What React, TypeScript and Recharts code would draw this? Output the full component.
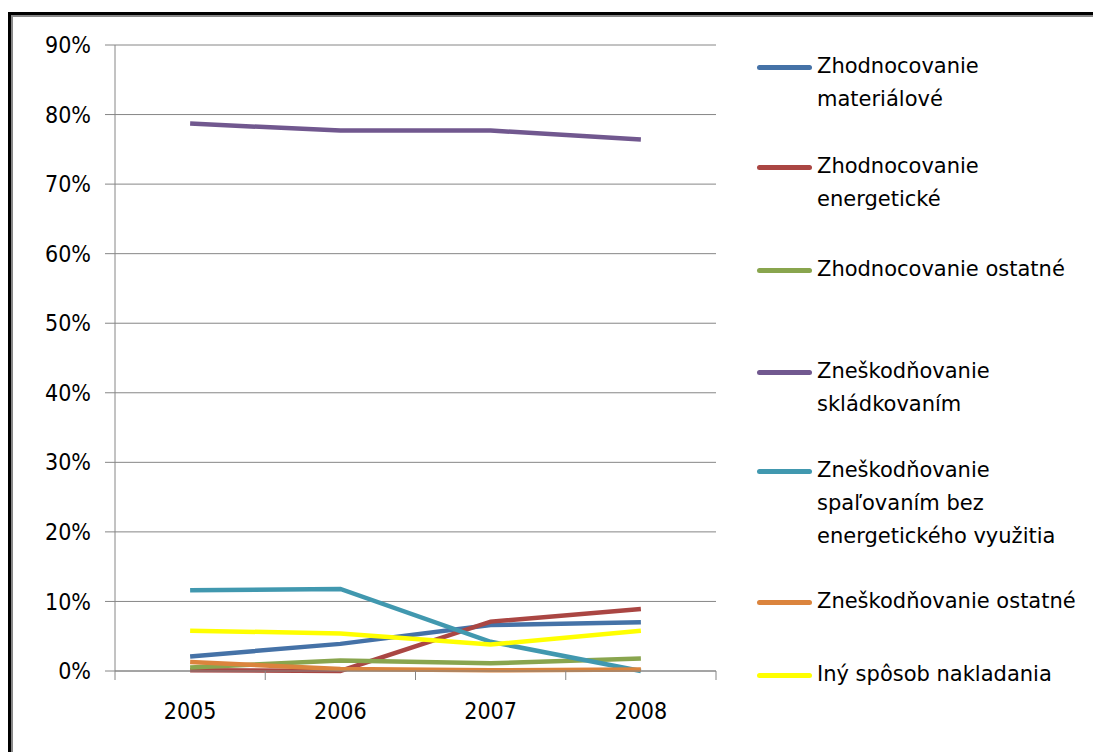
import { LineChart, Line, XAxis, YAxis, CartesianGrid } from "recharts";

const years = ["2005", "2006", "2007", "2008"];

const materialove = [0.021, 0.039, 0.066, 0.07];
const energeticke = [0.001, 0.0, 0.071, 0.089];
const zhodOstatne = [0.005, 0.015, 0.011, 0.018];
const skladkovanim = [0.787, 0.777, 0.777, 0.764];
const spalovanim = [0.116, 0.118, 0.042, 0.0];
const znesOstatne = [0.013, 0.003, 0.001, 0.002];
const iny = [0.058, 0.054, 0.038, 0.058];

const yTicks = [0, 0.1, 0.2, 0.3, 0.4, 0.5, 0.6, 0.7, 0.8, 0.9];

const series = [
  { key: "s1", name: "Zhodnocovanie\nmateriálové", color: "#4572A7", values: materialove },
  { key: "s2", name: "Zhodnocovanie\nenergetické", color: "#AA4643", values: energeticke },
  { key: "s3", name: "Zhodnocovanie ostatné", color: "#89A54E", values: zhodOstatne },
  { key: "s4", name: "Zneškodňovanie\nskládkovaním", color: "#71588F", values: skladkovanim },
  { key: "s5", name: "Zneškodňovanie\nspaľovaním bez\nenergetického využitia", color: "#4198AF", values: spalovanim },
  { key: "s6", name: "Zneškodňovanie ostatné", color: "#DB843D", values: znesOstatne },
  { key: "s7", name: "Iný spôsob nakladania", color: "#FFFF00", values: iny },
];

const data = years.map((y, i) => {
  const row: Record<string, number | string> = { x: i + 1, year: y };
  series.forEach((s) => (row[s.key] = s.values[i]));
  return row;
});

// x positions: category centers are integers, boundaries at .5
const xTicks = [0.5, 1, 1.5, 2, 2.5, 3, 3.5, 4, 4.5];

const legendTops = [67, 167, 270, 372, 471, 602, 675];

const axisFont = "'Liberation Sans Narrow', 'DejaVu Sans Condensed', sans-serif";

const XTick = (props: any) => {
  const { x, y, payload } = props;
  const v = payload.value;
  if (v % 1 !== 0) {
    return <line x1={x} y1={y} x2={x} y2={y + 9} stroke="#868686" strokeWidth={1} />;
  }
  return (
    <text x={x} y={y + 48} textAnchor="middle" fontSize={23} fontFamily={axisFont} fill="#000">
      {years[v - 1]}
    </text>
  );
};

const App = () => {
  return (
    <div style={{ position: "absolute", left: 0, top: 0, width: 1093, height: 752, background: "#fff", overflow: "hidden" }}>
      <div
        style={{
          position: "absolute",
          left: 8,
          top: 12,
          width: 1100,
          height: 760,
          borderTop: "3px solid #000",
          borderLeft: "3px solid #000",
          boxShadow: "inset 2px 2px 0 #888",
        }}
      />
      <div style={{ position: "absolute", left: 0, top: 0 }}>
        <LineChart width={740} height={752} data={data} margin={{ top: 45, right: 24, bottom: 21, left: 15 }}>
          <CartesianGrid vertical={false} stroke="#868686" />
          <XAxis
            dataKey="x"
            type="number"
            domain={[0.5, 4.5]}
            ticks={xTicks}
            interval={0}
            height={60}
            tickLine={false}
            tickSize={0}
            tickMargin={0}
            tick={<XTick />}
            axisLine={{ stroke: "#868686" }}
          />
          <YAxis
            type="number"
            domain={[0, 0.9]}
            ticks={yTicks}
            interval={0}
            width={100}
            tickSize={10}
            tickMargin={14}
            tickLine={{ stroke: "#868686" }}
            axisLine={{ stroke: "#868686" }}
            tickFormatter={(v: number) => `${Math.round(v * 100)}%`}
            tick={{ fontSize: 23, fontFamily: axisFont, fill: "#000" }}
          />
          {series.map((s) => (
            <Line
              key={s.key}
              dataKey={s.key}
              type="linear"
              stroke={s.color}
              strokeWidth={4.5}
              dot={false}
              isAnimationActive={false}
            />
          ))}
        </LineChart>
      </div>
      {series.map((s, i) => (
        <div key={s.key} style={{ position: "absolute", left: 757, top: legendTops[i] - 17 }}>
          <div
            style={{
              position: "absolute",
              left: 0,
              top: 15,
              width: 55,
              height: 5,
              borderRadius: 3,
              background: s.color,
            }}
          />
          <div
            style={{
              position: "absolute",
              left: 60,
              top: 0,
              whiteSpace: "pre",
              fontFamily: "'DejaVu Sans', sans-serif",
              fontSize: 21,
              lineHeight: "33px",
              color: "#000",
            }}
          >
            {s.name}
          </div>
        </div>
      ))}
    </div>
  );
};

export default App;
